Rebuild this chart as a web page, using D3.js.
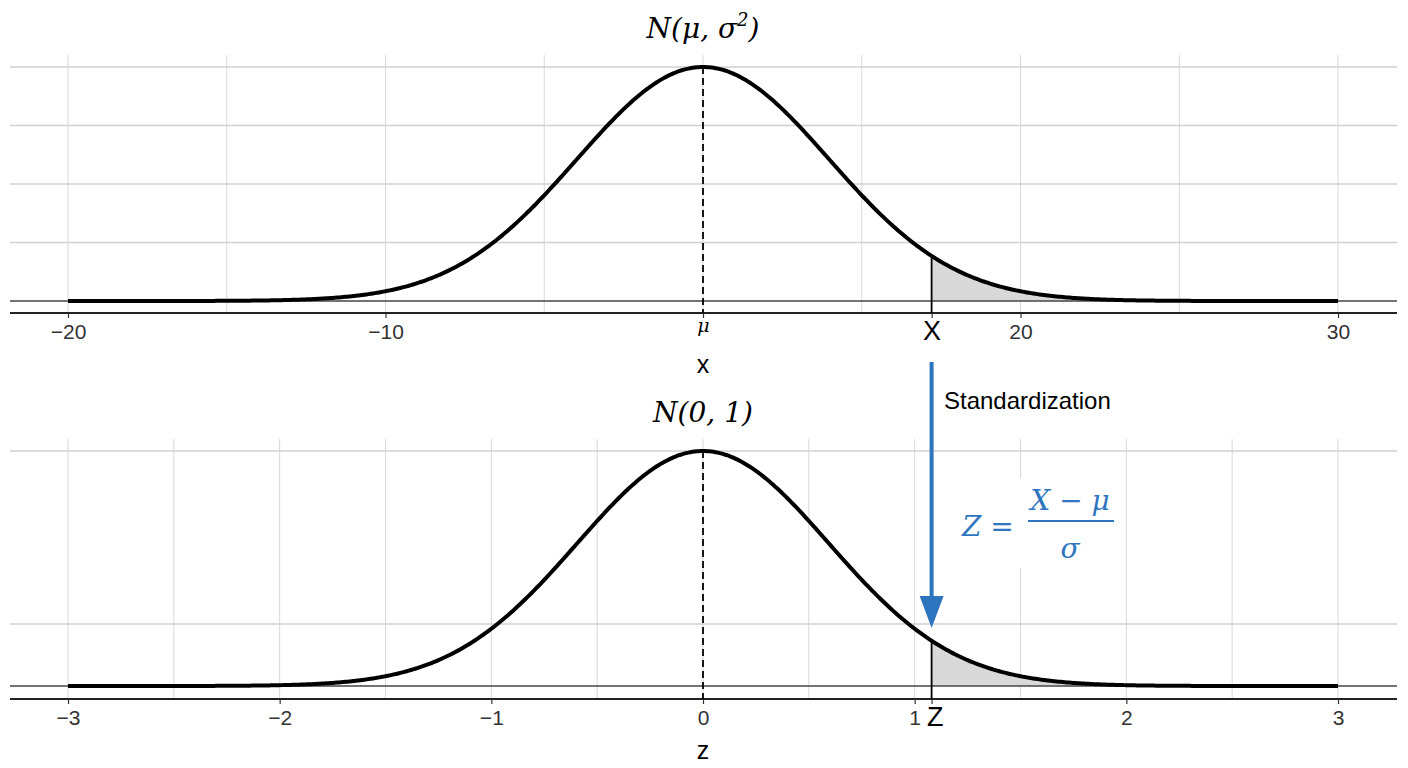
<!DOCTYPE html>
<html>
<head>
<meta charset="utf-8">
<script src="https://d3js.org/d3.v7.min.js"></script>
<style>
  body { margin: 0; background: #fff; }
  text { font-family: "Liberation Sans", Arial, sans-serif; }
  .math { font-family: "DejaVu Serif", "Liberation Serif", serif; font-style: italic; }
</style>
</head>
<body>
<svg id="chart" width="1408" height="768"></svg>
<script>
// shared standardized scale, curve parameters
const curveSd = 0.595;
const cutZ = 1.08;
const topTickValues = [-3, -1.5, 0, 1.08, 1.5, 3];
const topTickLabels = ["\u221220", "\u221210", "\u03bc", "X", "20", "30"];
const topGridX = [-3, -2.25, -1.5, -0.75, 0, 0.75, 1.5, 2.25, 3];
const topGridY = [0, 0.25, 0.5, 0.75, 1];
const botTickValues = [-3, -2, -1, 0, 1, 1.08, 2, 3];
const botTickLabels = ["\u22123", "\u22122", "\u22121", "0", "1", "Z", "2", "3"];
const botGridX = [-3, -2.5, -2, -1.5, -1, -0.5, 0, 0.5, 1, 1.5, 2, 2.5, 3];
const botGridY = [0, 0.264, 1];

const svg = d3.select("#chart");
const x = d3.scaleLinear().domain([-3, 3]).range([68, 1338]);
const pdf = z => Math.exp(-0.5 * (z / curveSd) ** 2);
const pts = d3.range(-3, 3.0001, 0.01);

function panel(o) {
  const y = d3.scaleLinear().domain([0, 1]).range([o.base, o.peak]);
  const g = svg.append("g");
  g.selectAll(".vg").data(o.gridX).join("line")
    .attr("x1", d => x(d)).attr("x2", d => x(d))
    .attr("y1", o.peak - 12).attr("y2", o.axisY)
    .attr("stroke", "#d8d8d8").attr("stroke-width", 1);
  g.selectAll(".hg").data(o.gridY.filter(d => d > 0)).join("line")
    .attr("x1", 10).attr("x2", 1397)
    .attr("y1", d => y(d)).attr("y2", d => y(d))
    .attr("stroke", "#d0d0d0").attr("stroke-width", 1.5);
  // shaded tail
  const tail = pts.filter(d => d >= cutZ);
  tail.unshift(cutZ);
  g.append("path")
    .attr("d", d3.area().x(d => x(d)).y0(y(0)).y1(d => y(pdf(d)))(tail))
    .attr("fill", "#d9d9d9");
  g.append("line").attr("x1", 10).attr("x2", 1397)
    .attr("y1", y(0)).attr("y2", y(0)).attr("stroke", "#444").attr("stroke-width", 1.5);
  g.append("line").attr("x1", 10).attr("x2", 1397)
    .attr("y1", o.axisY).attr("y2", o.axisY).attr("stroke", "#222").attr("stroke-width", 1.8);
  g.append("line").attr("x1", x(cutZ)).attr("x2", x(cutZ))
    .attr("y1", y(pdf(cutZ))).attr("y2", o.axisY).attr("stroke", "#000").attr("stroke-width", 1.8);
  g.append("line").attr("x1", x(0)).attr("x2", x(0))
    .attr("y1", y(1)).attr("y2", o.axisY).attr("stroke", "#000")
    .attr("stroke-width", 1.8).attr("stroke-dasharray", "7,4");
  g.append("path")
    .attr("d", d3.line().x(d => x(d)).y(d => y(pdf(d)))(pts))
    .attr("fill", "none").attr("stroke", "#000").attr("stroke-width", 4);
  // axis
  const axis = d3.axisBottom(x).tickValues(o.ticks).tickSize(5)
    .tickFormat((d, i) => o.labels[i]);
  const ag = g.append("g").attr("transform", `translate(0,${o.axisY})`).call(axis);
  ag.attr("font-size", null).attr("font-family", null);
  ag.select(".domain").remove();
  ag.selectAll(".tick line").attr("stroke", "#333").attr("stroke-width", 1.2);
  ag.selectAll(".tick text").style("font-size", "21px").attr("fill", "#333").attr("dy", "0.85em");
  ag.selectAll(".tick").filter((d, i) => o.labels[i] === "X" || o.labels[i] === "Z")
    .select("text").style("font-size", "27px").attr("fill", "#000").attr("dy", "0.7em")
    .attr("dx", o.labels.includes("Z") ? "0.12em" : 0);
  ag.selectAll(".tick").filter((d, i) => o.labels[i] === "\u03bc").select("text")
    .attr("class", "math").style("font-size", "19px").attr("fill", "#000").attr("dy", "0.6em");
  g.append("text").attr("x", x(0)).attr("y", o.axisY + 60).attr("text-anchor", "middle")
    .style("font-size", "25px").attr("fill", "#000").text(o.xlab);
  return g;
}

panel({ base: 301, peak: 67, axisY: 313, gridX: topGridX, gridY: topGridY,
        ticks: topTickValues, labels: topTickLabels, xlab: "x" });
panel({ base: 686, peak: 451, axisY: 699, gridX: botGridX, gridY: botGridY,
        ticks: botTickValues, labels: botTickLabels, xlab: "z" });

// titles
const t1 = svg.append("text").attr("class", "math").attr("x", x(0)).attr("y", 38)
  .attr("text-anchor", "middle").attr("font-size", 28);
t1.append("tspan").text("N(\u03bc, \u03c3");
t1.append("tspan").attr("font-size", 18).attr("dy", -12).text("2");
t1.append("tspan").attr("dy", 12).text(")");
svg.append("text").attr("class", "math").attr("x", x(0)).attr("y", 422)
  .attr("text-anchor", "middle").attr("font-size", 28).text("N(0, 1)");

// standardization arrow
const blue = "#2e75bf";
svg.append("rect").attr("x", 955).attr("y", 478).attr("width", 165).attr("height", 90).attr("fill", "#fff");
svg.append("line").attr("x1", x(cutZ)).attr("x2", x(cutZ)).attr("y1", 362).attr("y2", 600)
  .attr("stroke", blue).attr("stroke-width", 4);
svg.append("path")
  .attr("d", `M${x(cutZ) - 12},596 L${x(cutZ) + 12},596 L${x(cutZ)},628 Z`)
  .attr("fill", blue);
svg.append("text").attr("x", 944).attr("y", 409).attr("font-size", 24).text("Standardization");
const fx = 1070;
svg.append("text").attr("class", "math").attr("x", 962).attr("y", 536).attr("font-size", 28)
  .attr("fill", blue).text("Z =");
svg.append("text").attr("class", "math").attr("x", fx).attr("y", 510).attr("text-anchor", "middle")
  .attr("font-size", 28).attr("fill", blue).text("X \u2212 \u03bc");
svg.append("line").attr("x1", 1028).attr("x2", 1114).attr("y1", 521).attr("y2", 521)
  .attr("stroke", blue).attr("stroke-width", 2);
svg.append("text").attr("class", "math").attr("x", fx).attr("y", 558).attr("text-anchor", "middle")
  .attr("font-size", 28).attr("fill", blue).text("\u03c3");
</script>
</body>
</html>
